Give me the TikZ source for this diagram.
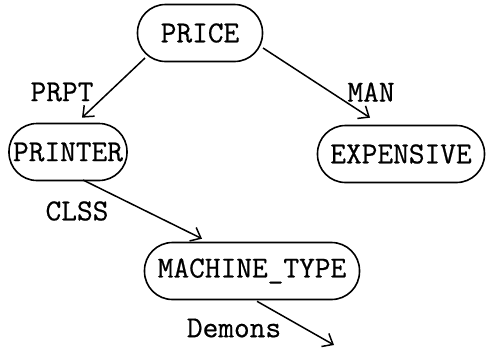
\documentclass[tikz,border=0pt]{standalone}
\usepackage{fontspec}
\newfontfamily\twfont{Latin Modern Mono}[FakeBold=0.6]
\usetikzlibrary{arrows.meta}
\begin{document}
\begin{tikzpicture}[x=1pt,y=-1pt,
  box/.style={draw, line width=1.6pt, rounded corners=28pt, minimum height=57pt, inner sep=0pt, font=\twfont\fontsize{30.5}{30.5}\selectfont},
  lbl/.style={font=\twfont\fontsize{30.5}{30.5}\selectfont, inner sep=0pt},
  conn/.style={line width=1.5pt, -{Straight Barb[length=9pt,width=15pt,line width=1.5pt]}}]
\useasboundingbox (0,0) rectangle (486,349);
\node[box, minimum width=125pt] (price) at (200,33) {PRICE};
\node[box, minimum width=118pt] (printer) at (68,152) {PRINTER};
\node[box, minimum width=167pt] (expensive) at (401,154) {EXPENSIVE};
\node[box, minimum width=215pt] (machine) at (252,271) {MACHINE\_TYPE};
\coordinate (demend) at (334,345);
\draw[conn] ([shift={(-55,25)}]price.center) -- ([shift={(14,-5)}]printer.north);
\draw[conn] ([shift={(63,15)}]price.center) -- ([shift={(-31,-7)}]expensive.north);
\draw[conn] ([shift={(15,28)}]printer.center) -- ([shift={(-50,-3)}]machine.north);
\draw[conn] ([shift={(5,1)}]machine.south) -- (demend);
\node[lbl] (prpt) at (62,92) {PRPT};
\node[lbl] (man) at (371,92) {MAN};
\node[lbl] (clss) at (77,211) {CLSS};
\node[lbl] (demons) at (234,328) {Demons};
\end{tikzpicture}
\end{document}
